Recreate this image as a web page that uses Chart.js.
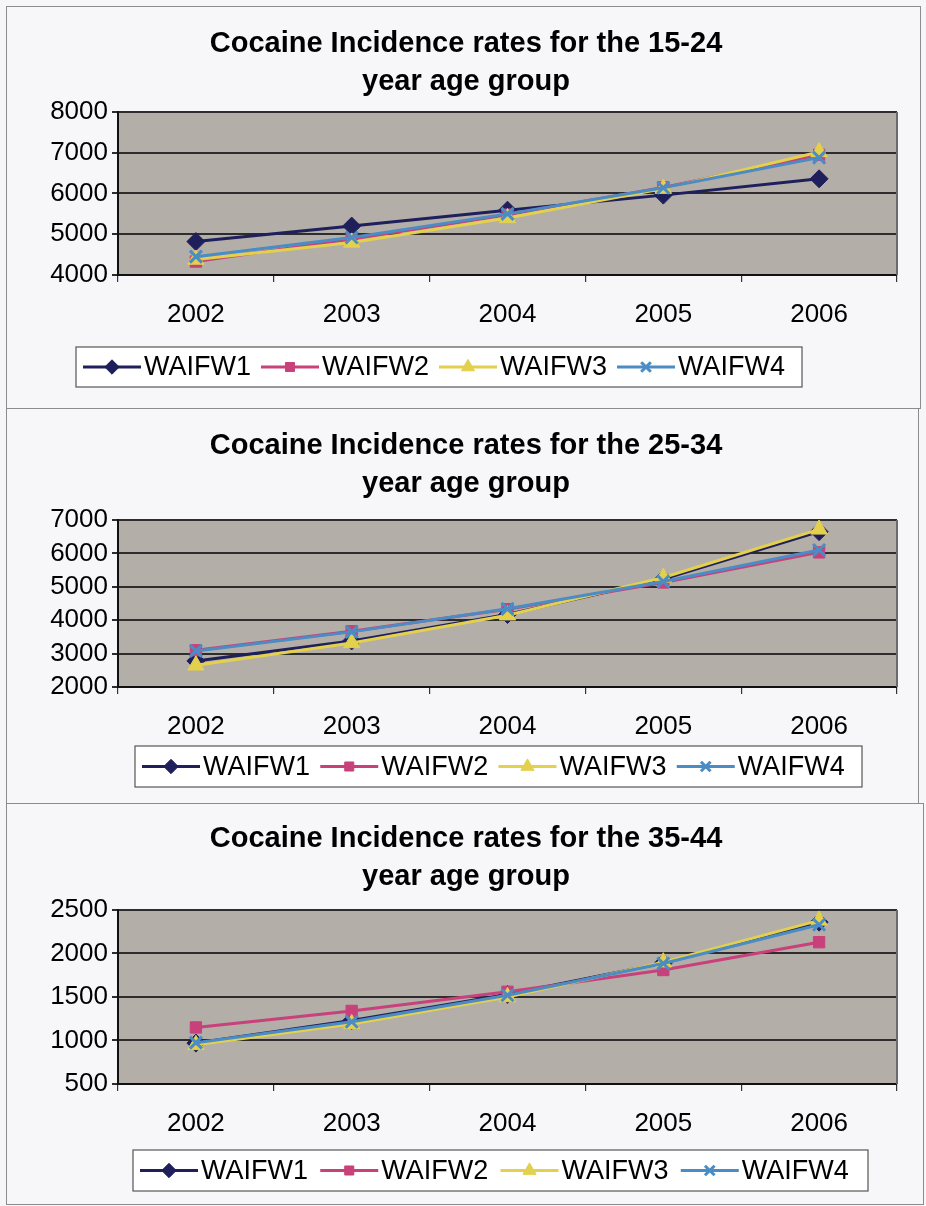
<!DOCTYPE html>
<html>
<head>
<meta charset="utf-8">
<script src="https://cdn.jsdelivr.net/npm/chart.js@4"></script>
<style>
  html, body { margin:0; padding:0; background:#f6f6f8; width:926px; height:1206px; overflow:hidden; }
  .box { position:absolute; border:1.5px solid #8c8c8c; background:#f7f7f9; box-sizing:border-box; }
  canvas { display:block; }
</style>
</head>
<body>
<div class="box" id="b1" style="left:6px;top:6px;width:915px;height:403px;"><canvas id="c1"></canvas></div>
<div class="box" id="b2" style="left:6px;top:408px;width:913px;height:396px;"><canvas id="c2"></canvas></div>
<div class="box" id="b3" style="left:6px;top:803px;width:918px;height:402px;"><canvas id="c3"></canvas></div>
<script>
// ---- data ----
const years = ['2002', '2003', '2004', '2005', '2006'];
const seriesNames = ['WAIFW1', 'WAIFW2', 'WAIFW3', 'WAIFW4'];

const title1524 = ['Cocaine Incidence rates for the 15-24', 'year age group'];
const w1_1524 = [4820, 5200, 5590, 5960, 6360];
const w2_1524 = [4330, 4880, 5480, 6150, 6950];
const w3_1524 = [4380, 4800, 5400, 6120, 7020];
const w4_1524 = [4450, 4920, 5500, 6140, 6880];
const yTicks1524 = [4000, 5000, 6000, 7000, 8000];

const title2534 = ['Cocaine Incidence rates for the 25-34', 'year age group'];
const w1_2534 = [2780, 3380, 4170, 5230, 6650];
const w2_2534 = [3100, 3670, 4330, 5130, 6030];
const w3_2534 = [2650, 3320, 4150, 5280, 6720];
const w4_2534 = [3080, 3650, 4340, 5160, 6100];
const yTicks2534 = [2000, 3000, 4000, 5000, 6000, 7000];

const title3544 = ['Cocaine Incidence rates for the 35-44', 'year age group'];
const w1_3544 = [970, 1230, 1530, 1890, 2360];
const w2_3544 = [1150, 1340, 1560, 1810, 2130];
const w3_3544 = [950, 1190, 1500, 1900, 2380];
const w4_3544 = [975, 1215, 1520, 1885, 2330];
const yTicks3544 = [500, 1000, 1500, 2000, 2500];

// ---- styles ----
const FONT = "'Liberation Sans', Arial, sans-serif";
const colors = ['#1f1f5c', '#c8417a', '#e3d04c', '#4b8cc4'];
const markers = ['rectRot', 'rect', 'triangle', 'crossRot'];
const radii = [9, 8, 9.5, 8.5];
const plotBg = '#b3aea8';

const bgPlugin = {
  id: 'plotBg',
  beforeDraw(chart) {
    const a = chart.chartArea, ctx = chart.ctx;
    ctx.save();
    ctx.fillStyle = plotBg;
    ctx.fillRect(a.left, a.top, a.right - a.left, a.bottom - a.top);
    ctx.restore();
  },
  afterDatasetsDraw(chart) {
    const a = chart.chartArea, ctx = chart.ctx;
    ctx.save();
    ctx.strokeStyle = '#6d6970';
    ctx.lineWidth = 2;
    ctx.beginPath();
    ctx.moveTo(a.right, a.top); ctx.lineTo(a.right, a.bottom);
    ctx.stroke();
    ctx.restore();
  }
};

const legendPlugin = {
  id: 'lineLegend',
  afterDraw(chart, args, opts) {
    const ctx = chart.ctx;
    const L = opts.box;
    ctx.save();
    ctx.fillStyle = '#ffffff';
    ctx.fillRect(L.x, L.y, L.w, L.h);
    ctx.strokeStyle = '#555';
    ctx.lineWidth = 1.2;
    ctx.strokeRect(L.x, L.y, L.w, L.h);
    const pitch = (L.w - 14) / 4;
    const cy = L.y + L.h / 2;
    chart.data.datasets.forEach((ds, i) => {
      const x0 = L.x + 7 + i * pitch;
      ctx.strokeStyle = ds.borderColor;
      ctx.lineWidth = 3;
      ctx.beginPath();
      ctx.moveTo(x0, cy); ctx.lineTo(x0 + 58, cy);
      ctx.stroke();
      ctx.fillStyle = ds.pointBackgroundColor;
      ctx.strokeStyle = ds.pointBorderColor;
      ctx.lineWidth = ds.pointBorderWidth;
      Chart.helpers.drawPoint(ctx, { pointStyle: ds.pointStyle, radius: ds.pointRadius * 0.8, rotation: 0, borderWidth: ds.pointBorderWidth }, x0 + 29, cy);
      ctx.fillStyle = '#000';
      ctx.font = '27px ' + FONT;
      ctx.textBaseline = 'middle';
      ctx.textAlign = 'left';
      ctx.fillText(ds.label, x0 + 61, cy + 1);
    });
    ctx.restore();
  }
};

function makeDatasets(vals) {
  return vals.map((v, i) => ({
    label: seriesNames[i],
    data: v,
    borderColor: colors[i],
    backgroundColor: colors[i],
    pointBackgroundColor: colors[i],
    pointBorderColor: colors[i],
    pointBorderWidth: markers[i] === 'crossRot' ? 3 : 1,
    pointStyle: markers[i],
    pointRadius: radii[i],
    borderWidth: 3,
    tension: 0,
    order: 3 - i
  }));
}

function makeChart(id, w, h, titleLines, vals, yTicks, geo) {
  const cv = document.getElementById(id);
  cv.width = w; cv.height = h;
  cv.style.width = w + 'px'; cv.style.height = h + 'px';
  const yMin = yTicks[0], yMax = yTicks[yTicks.length - 1];
  const step = yTicks[1] - yTicks[0];
  return new Chart(cv, {
    type: 'line',
    data: { labels: years, datasets: makeDatasets(vals) },
    options: {
      responsive: false,
      animation: false,
      devicePixelRatio: 1,
      layout: { padding: { left: 28, right: geo.padRight, top: 0, bottom: geo.padBottom } },
      plugins: {
        legend: { display: false },
        tooltip: { enabled: false },
        title: {
          display: true,
          text: titleLines,
          color: '#000',
          font: { family: FONT, size: 29, weight: 'bold', lineHeight: 1.31 },
          padding: { top: geo.titleTop, bottom: geo.titleBottom }
        },
        lineLegend: { box: geo.legend }
      },
      scales: {
        x: {
          offset: true,
          afterFit(s) { s.height = 60; },
          grid: { offset: true, drawOnChartArea: false, drawTicks: true, tickLength: 7, color: '#333', lineWidth: 1.2 },
          border: { display: true, color: '#111', width: 2 },
          ticks: { color: '#000', font: { family: FONT, size: 26 }, padding: 17, maxRotation: 0 }
        },
        y: {
          min: yMin, max: yMax,
          afterFit(s) { s.width = 83; },
          grid: { color: '#2e2c2c', lineWidth: 2, tickLength: 6 },
          border: { display: true, color: '#111', width: 2 },
          ticks: {
            color: '#000', font: { family: FONT, size: 26 }, padding: 4,
            stepSize: step, autoSkip: false,
            callback: (v) => String(v)
          }
        }
      }
    },
    plugins: [bgPlugin, legendPlugin]
  });
}

makeChart('c1', 912, 400, title1524, [w1_1524, w2_1524, w3_1524, w4_1524], yTicks1524,
  { padRight: 22, padBottom: 72, titleTop: 18, titleBottom: 11, legend: { x: 69, y: 340, w: 726, h: 40 } });
makeChart('c2', 910, 393, title2534, [w1_2534, w2_2534, w3_2534, w4_2534], yTicks2534,
  { padRight: 20, padBottom: 55, titleTop: 18, titleBottom: 17, legend: { x: 128, y: 337, w: 727, h: 41 } });
makeChart('c3', 915, 399, title3544, [w1_3544, w2_3544, w3_3544, w4_3544], yTicks3544,
  { padRight: 25, padBottom: 59, titleTop: 16, titleBottom: 14, legend: { x: 126, y: 346, w: 735, h: 41 } });
</script>
</body>
</html>
